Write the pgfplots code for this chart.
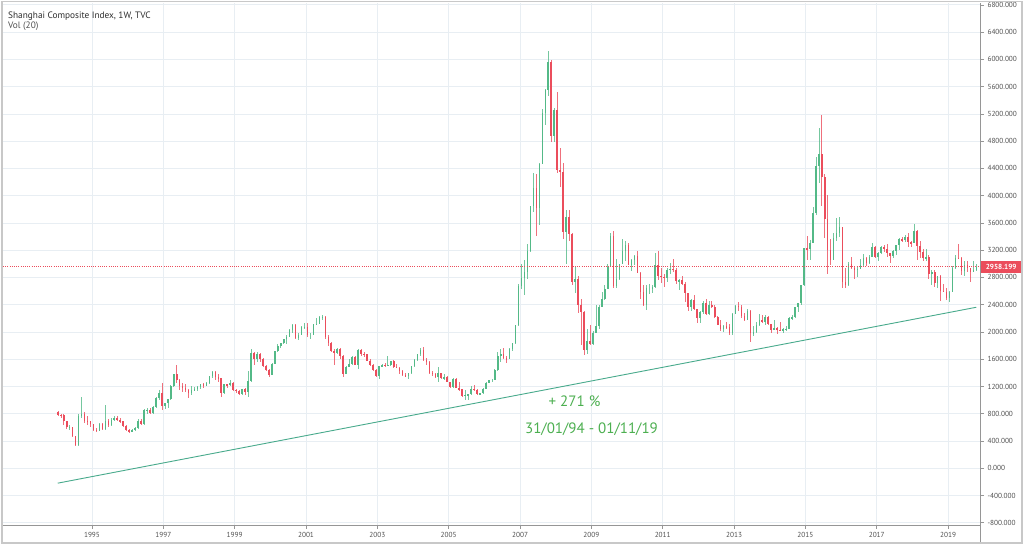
\documentclass[border=0pt]{standalone}
\usepackage{fontspec}
\setmainfont{PT Sans}
\usepackage{pgfplots}
\usepackage{pgfplotstable}
\pgfplotsset{compat=1.18}
\definecolor{upc}{RGB}{83,185,135}
\definecolor{dnc}{RGB}{235,77,92}
\definecolor{gridc}{RGB}{232,238,243}
\definecolor{axisc}{RGB}{150,150,150}
\definecolor{labc}{RGB}{80,80,80}
\definecolor{titlec}{RGB}{45,45,45}
\definecolor{trendc}{RGB}{72,170,140}
\definecolor{txtgreen}{RGB}{76,175,80}
\definecolor{pricered}{RGB}{235,77,92}
\definecolor{framec}{RGB}{200,200,200}

% monthly OHLC, Jan 1994 ... Oct 2019
\pgfplotstableread{
o h l c
830 845 760 780
780 800 740 775
775 790 640 690
690 700 580 600
600 640 560 605
605 610 460 470
470 480 325 335
335 800 330 760
760 1052 740 800
800 820 660 700
700 760 640 690
690 700 600 647
647 650 540 563
563 590 525 550
550 660 540 645
645 660 560 580
580 926 560 700
700 720 600 630
630 740 620 715
715 770 690 740
740 770 690 710
710 740 670 690
690 700 600 620
620 630 550 555
555 570 512 537
537 580 530 560
560 600 545 585
585 720 580 690
690 720 640 650
650 870 640 850
850 880 800 860
860 880 790 810
810 910 800 900
900 1040 880 1030
1030 1150 1000 1100
1100 1258 855 917
917 960 870 950
950 1020 880 1010
1010 1220 1000 1200
1200 1390 1190 1380
1380 1510 1250 1300
1300 1310 1150 1200
1200 1250 1120 1180
1180 1240 1120 1150
1150 1170 1025 1100
1100 1200 1080 1150
1150 1190 1130 1160
1160 1200 1140 1195
1195 1240 1170 1230
1230 1250 1180 1210
1210 1270 1200 1250
1250 1360 1240 1350
1350 1420 1320 1410
1410 1422 1300 1340
1340 1380 1260 1320
1320 1330 1043 1100
1100 1240 1090 1230
1230 1240 1180 1215
1215 1300 1200 1250
1250 1260 1140 1147
1147 1160 1100 1135
1135 1150 1070 1090
1090 1160 1080 1160
1160 1180 1080 1120
1120 1420 1047 1280
1280 1756 1270 1690
1690 1700 1520 1600
1600 1700 1560 1680
1680 1690 1560 1600
1600 1620 1480 1500
1500 1520 1420 1440
1440 1460 1341 1367
1367 1540 1361 1535
1535 1720 1530 1715
1715 1830 1710 1800
1800 1840 1770 1836
1836 1900 1820 1895
1895 1950 1820 1928
1928 2040 1920 2023
2023 2114 1980 2100
2100 2110 1900 1910
1910 1990 1880 1960
1960 2080 1950 2070
2070 2130 2050 2073
2073 2130 1920 1960
1960 1990 1890 1960
1960 2120 1950 2110
2110 2210 2100 2120
2120 2230 2110 2214
2214 2245 2180 2218
2218 2230 1900 1920
1920 1960 1800 1834
1834 1850 1700 1720
1720 1750 1514 1690
1690 1770 1680 1750
1750 1760 1600 1646
1646 1660 1339 1390
1390 1500 1380 1490
1490 1600 1480 1525
1525 1650 1510 1630
1630 1640 1510 1520
1520 1748 1455 1730
1730 1750 1640 1680
1680 1710 1630 1670
1670 1680 1570 1580
1580 1600 1500 1510
1510 1530 1430 1440
1440 1460 1340 1357
1357 1500 1311 1499
1499 1530 1480 1511
1511 1540 1480 1510
1510 1649 1500 1521
1521 1580 1500 1577
1577 1590 1470 1486
1486 1530 1470 1476
1476 1490 1390 1421
1421 1440 1350 1367
1367 1400 1340 1348
1348 1400 1307 1397
1397 1500 1390 1497
1497 1600 1490 1590
1590 1680 1580 1675
1675 1760 1640 1741
1741 1783 1580 1595
1595 1620 1520 1555
1555 1570 1390 1399
1399 1420 1360 1386
1386 1400 1320 1342
1342 1490 1260 1396
1396 1400 1310 1320
1320 1390 1300 1340
1340 1350 1260 1266
1266 1270 1180 1191
1191 1330 1180 1306
1306 1320 1180 1181
1181 1260 1140 1159
1159 1170 1040 1060
1060 1150 998 1080
1080 1090 1005 1083
1083 1200 1080 1162
1162 1220 1140 1155
1155 1160 1070 1092
1092 1110 1074 1099
1099 1180 1090 1161
1161 1260 1160 1258
1258 1300 1250 1299
1299 1310 1260 1299
1299 1450 1295 1440
1440 1700 1430 1641
1641 1750 1560 1672
1672 1760 1600 1612
1612 1650 1540 1601
1601 1760 1600 1753
1753 1840 1720 1837
1837 2100 1830 2099
2099 2700 2090 2675
2675 2990 2630 2786
2786 3050 2541 2881
2881 3290 2780 3183
3183 3850 3180 3841
3841 4335 3760 4109
4109 4312 3404 3820
3820 4480 3563 4471
4471 5270 4460 5218
5218 5560 5030 5552
5552 6124 5460 5955
5955 5990 4780 4871
4871 5280 4780 5262
5262 5522 4330 4383
4383 4695 4123 4348
4348 4473 3357 3473
3473 3786 2990 3693
3693 3786 3333 3433
3433 3456 2693 2736
2736 2953 2566 2775
2775 2816 2284 2397
2397 2480 1802 2293
2293 2300 1664 1729
1729 2050 1678 1871
1871 2100 1814 1821
1821 2010 1814 1991
1991 2402 1990 2082
2082 2400 2037 2373
2373 2579 2364 2477
2477 2689 2474 2633
2633 2999 2630 2959
2959 3455 2950 3412
3412 3478 2640 2667
2667 3068 2640 2779
2779 3000 2760 2996
2996 3361 2990 3195
3195 3330 3040 3277
3277 3306 2987 2989
2989 3073 2890 3051
3051 3135 2986 3110
3110 3181 2865 2870
2870 2880 2481 2592
2592 2693 2382 2398
2398 2690 2319 2638
2638 2705 2560 2638
2638 2689 2569 2655
2655 3160 2645 2979
2979 3186 2760 2820
2820 2939 2721 2808
2808 2852 2661 2790
2790 2940 2738 2905
2905 3009 2850 2928
2928 3067 2880 2911
2911 2935 2700 2743
2743 2781 2610 2762
2762 2827 2690 2701
2701 2730 2437 2568
2568 2578 2307 2359
2359 2480 2308 2469
2469 2536 2319 2333
2333 2338 2134 2199
2199 2300 2132 2292
2292 2452 2270 2428
2428 2478 2242 2263
2263 2454 2250 2397
2397 2461 2347 2373
2373 2390 2210 2225
2225 2236 2100 2103
2103 2180 2020 2047
2047 2107 1999 2086
2086 2140 2050 2069
2069 2110 1959 1980
1980 2276 1949 2269
2269 2393 2260 2385
2385 2444 2310 2365
2365 2400 2207 2237
2237 2273 2160 2177
2177 2335 2170 2301
2301 2320 1849 1979
1979 2090 1940 1993
1993 2149 1990 2098
2098 2270 2090 2175
2175 2243 2130 2141
2141 2245 2100 2220
2220 2230 2100 2116
2116 2120 1985 2033
2033 2177 2030 2056
2056 2076 1974 2033
2033 2146 2010 2026
2026 2062 1991 2039
2039 2088 2010 2048
2048 2219 2040 2202
2202 2248 2180 2217
2217 2366 2210 2364
2364 2428 2290 2420
2420 2684 2400 2683
2683 3239 2675 3235
3235 3406 3050 3210
3210 3350 3050 3310
3310 3835 3300 3748
3748 4573 3715 4442
4442 4986 4185 4612
4612 5178 3847 4277
4277 4318 3373 3664
3664 4006 2850 3206
3206 3357 2983 3053
3053 3459 3050 3383
3383 3678 3330 3445
3445 3684 3400 3539
3539 3545 2638 2738
2738 2934 2638 2688
2688 3020 2680 3004
3004 3097 2924 2938
2938 2952 2781 2917
2917 2960 2808 2930
2930 3071 2925 2979
2979 3140 2960 3085
3085 3095 2969 3005
3005 3132 3000 3100
3100 3301 3095 3250
3250 3264 3085 3104
3104 3174 3045 3159
3159 3261 3150 3242
3242 3283 3180 3223
3223 3295 3100 3155
3155 3165 3017 3117
3117 3200 3080 3192
3192 3280 3130 3273
3273 3375 3200 3361
3361 3391 3320 3349
3349 3420 3320 3393
3393 3450 3250 3317
3317 3330 3250 3307
3307 3587 3300 3481
3481 3495 3062 3259
3259 3334 3091 3169
3169 3220 3041 3082
3082 3219 3041 3095
3095 3124 2782 2847
2847 2915 2691 2876
2876 2915 2653 2725
2725 2827 2644 2821
2821 2838 2449 2603
2603 2703 2580 2588
2588 2650 2463 2494
2494 2597 2440 2585
2585 2961 2580 2941
2941 3129 2930 3091
3091 3288 3070 3078
3078 3098 2838 2899
2899 3046 2822 2979
2979 3048 2873 2932
2932 2940 2733 2886
2886 3047 2880 2905
2905 2993 2891 2958
}\candles
\pgfplotstablecreatecol[create col/expr={1994+(\pgfplotstablerow+0.5)/12}]{t}{\candles}

\pgfplotsset{
  candlebase/.style={forget plot, draw=none, mark=none},
}

\begin{document}
\begin{tikzpicture}[x=1pt,y=1pt]
\useasboundingbox (0,0) rectangle (1024,548);
\fill[white] (0,0) rectangle (1024,548);
\begin{axis}[
  at={(3pt,23pt)}, anchor=south west,
  scale only axis, width=977pt, height=522pt,
  xmin=1992.505, xmax=2019.895,
  ymin=-833, ymax=6827,
  axis x line*=bottom, axis y line*=right,
  axis line style={draw=axisc, line width=0.8pt},
  xtick={1995,1997,1999,2001,2003,2005,2007,2009,2011,2013,2015,2017,2019},
  xticklabels={1995,1997,1999,2001,2003,2005,2007,2009,2011,2013,2015,2017,2019},
  ytick={-800,-400,...,6800},
  scaled ticks=false,
  yticklabel={\pgfmathprintnumber[fixed,fixed zerofill,precision=3,1000 sep={},assume math mode=true]{\tick}},
  tick label style={font=\fontsize{7.3}{8}\selectfont, text=labc},
  grid=major, major grid style={draw=gridc, line width=0.7pt},
  tick align=outside, major tick length=4pt,
  major tick style={draw=axisc, line width=0.6pt},
  clip mode=individual,
]
% wicks
\addplot[candlebase,
  restrict expr to domain={\thisrow{c}-\thisrow{o}}{0:100000},
  error bars/.cd, y dir=both, y explicit, error mark=none,
  error bar style={draw=upc, line width=0.55pt, opacity=0.8}]
  table[x=t, y expr={0.5*(\thisrow{h}+\thisrow{l})}, y error expr={0.5*(\thisrow{h}-\thisrow{l})}] {\candles};
\addplot[candlebase,
  restrict expr to domain={\thisrow{c}-\thisrow{o}}{-100000:-0.001},
  error bars/.cd, y dir=both, y explicit, error mark=none,
  error bar style={draw=dnc, line width=0.55pt, opacity=0.8}]
  table[x=t, y expr={0.5*(\thisrow{h}+\thisrow{l})}, y error expr={0.5*(\thisrow{h}-\thisrow{l})}] {\candles};
% bodies
\addplot[candlebase,
  restrict expr to domain={\thisrow{c}-\thisrow{o}}{0:100000},
  error bars/.cd, y dir=both, y explicit, error mark=none,
  error bar style={draw=upc, line width=1.6pt}]
  table[x=t, y expr={0.5*(\thisrow{o}+\thisrow{c})}, y error expr={0.5*abs(\thisrow{c}-\thisrow{o})}] {\candles};
\addplot[candlebase,
  restrict expr to domain={\thisrow{c}-\thisrow{o}}{-100000:-0.001},
  error bars/.cd, y dir=both, y explicit, error mark=none,
  error bar style={draw=dnc, line width=1.6pt}]
  table[x=t, y expr={0.5*(\thisrow{o}+\thisrow{c})}, y error expr={0.5*abs(\thisrow{c}-\thisrow{o})}] {\candles};
% trend line
\addplot[trendc, line width=0.9pt] coordinates {(1994.04,-219) (2019.79,2362)};
% last price line
\addplot[pricered, line width=0.6pt, dash pattern=on 1pt off 1.2pt] coordinates {(1992.505,2958.199) (2019.895,2958.199)};
\node[fill=pricered, text=white, font=\fontsize{7.3}{8}\selectfont\bfseries, anchor=west,
  inner xsep=2pt, inner ysep=0pt, minimum height=12pt, minimum width=40pt, xshift=1pt]
  at (axis cs:2019.895,2958.199) {2958.199};
\end{axis}
\draw[axisc, line width=0.8pt] (980,5) -- (980,23);
\draw[framec, line width=1.2pt] (2,5) rectangle (1022,546.5);
\node[anchor=base west, inner sep=0pt, font=\fontsize{9.3}{11}\selectfont, text=titlec] at (8,529.7) {Shanghai Composite Index, 1W, TVC};
\node[anchor=base west, inner sep=0pt, font=\fontsize{9.3}{11}\selectfont, text=labc] at (8,519.5) {Vol (20)};
\node[anchor=base, inner sep=0pt, font=\fontsize{15}{18}\selectfont, text=txtgreen] at (574.5,141.3) {+ 271 \%};
\node[anchor=base, inner sep=0pt, font=\fontsize{15}{18}\selectfont, text=txtgreen] at (591.5,114.7) {31/01/94 - 01/11/19};
\end{tikzpicture}
\end{document}
